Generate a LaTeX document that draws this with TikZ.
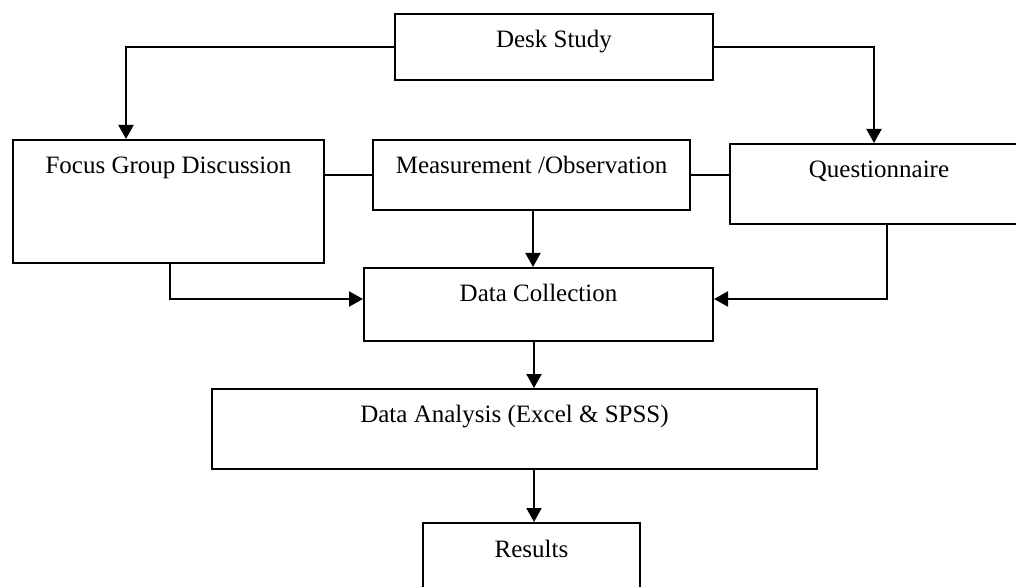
\documentclass[tikz,border=0pt]{standalone}
\usepackage{fontspec}
\setmainfont{Liberation Serif}
\usetikzlibrary{arrows.meta}
\begin{document}
\begin{tikzpicture}[x=0.5pt,y=-0.5pt,
  box/.style={draw,line width=1pt,rectangle,inner sep=0pt,anchor=north west,
    font=\fontsize{12.5}{15}\selectfont,text height=17pt},
  arr/.style={line width=1pt,-{Triangle[length=7pt,width=7.5pt]}},
  ln/.style={line width=1pt}]
\useasboundingbox (0,0) rectangle (1016,587);
\clip (0,0) rectangle (1016,587);
\node[box,minimum width=159pt,text depth=16pt] (desk) at (394,13) {Desk Study};
\node[box,minimum width=155.5pt,text depth=44.5pt] (focus) at (12,139) {Focus Group Discussion};
\node[box,minimum width=158.5pt,text depth=18pt] (meas) at (372,139) {Measurement /Observation};
\node[box,minimum width=149pt,text depth=23pt] (quest) at (729,143) {Questionnaire};
\node[box,minimum width=174.5pt,text depth=19.5pt] (coll) at (363,267) {Data Collection};
\node[box,minimum width=302.5pt,text height=16.5pt,text depth=23.5pt] (anal) at (211,388) {Data Analysis (Excel \& SPSS)};
\node[box,minimum width=108.5pt,text depth=18pt] (res) at (422,522) {Results};
% connectors
\draw[arr] (desk.west) -| ([xshift=57pt]focus.north west);
\draw[arr] (desk.east) -| ([xshift=72.5pt]quest.north west);
\draw[ln] (meas.west) -- (meas.west -| focus.east);
\draw[ln] (meas.east) -- (meas.east -| quest.west);
\draw[arr] ([xshift=0.75pt]meas.south) -- ([xshift=0.75pt]meas.south |- coll.north);
\draw[arr] ([xshift=0.75pt]focus.south) |- ([yshift=2.75pt]coll.west);
\draw[arr] ([xshift=79pt]quest.south west) |- ([yshift=2.75pt]coll.east);
\draw[arr] ([xshift=-2.25pt]coll.south) -- ([xshift=-2.25pt]coll.south |- anal.north);
\draw[arr] ([xshift=-2.25pt]coll.south |- anal.south) -- ([xshift=-2.25pt]coll.south |- res.north);
\end{tikzpicture}
\end{document}
